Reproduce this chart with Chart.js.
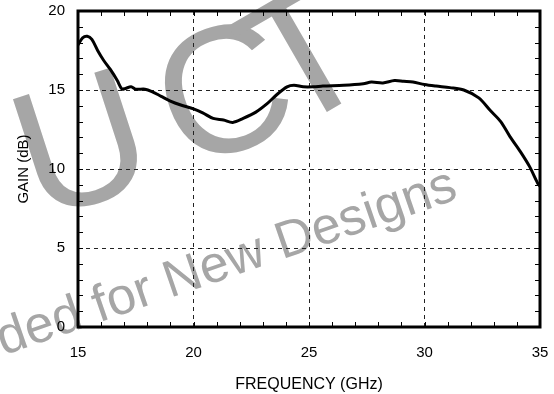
<!DOCTYPE html>
<html>
<head>
<meta charset="utf-8">
<script src="https://cdn.jsdelivr.net/npm/chart.js@4"></script>
<style>
body{margin:0;background:#fff}
canvas{display:block}
</style>
</head>
<body>
<canvas id="myChart" width="554" height="394"></canvas>
<script>
// gain curve
var freq=[15,15.2,15.4,15.6,15.85,16.1,16.4,16.7,16.9,17.05,17.3,17.5,17.9,18.2,18.6,19.0,19.45,20.0,20.4,20.85,21.3,21.7,22.15,22.7,23.2,23.6,24.05,24.35,24.75,25.2,25.6,26.5,27.35,27.7,28.2,28.7,29.1,29.5,30.0,30.5,31.1,31.7,32.35,32.85,33.3,33.7,34.15,34.55,34.9,35]
var gain=[17.85,18.3,18.4,18.2,17.5,16.9,16.3,15.6,15.06,15.1,15.2,15.05,15.05,14.9,14.6,14.3,14.05,13.8,13.55,13.2,13.1,12.95,13.2,13.6,14.15,14.7,15.2,15.3,15.2,15.2,15.25,15.3,15.4,15.5,15.45,15.6,15.55,15.5,15.35,15.25,15.15,15.0,14.5,13.7,13.0,12.05,11.1,10.15,9.1,8.9]
var xTitle='FREQUENCY (GHz)'
var yTitle='GAIN (dB)'
var mark1='PRODUCT'
var mark2='Not Recommended for New Designs'

var fam='"Liberation Sans", Arial, Helvetica, sans-serif'

var pts=[]
for(var i=0;i<freq.length;i++){pts.push({x:freq[i],y:gain[i]})}

// grey watermark behind the plot
var watermark={
    id:'watermark',
    beforeDraw:function(chart){
        var ctx=chart.ctx
        var deg=Math.PI/180
        ctx.save()
        ctx.fillStyle='#a6a6a6'
        ctx.textAlign='center'
        ctx.textBaseline='alphabetic'
        // big word, the letters sit on a slight arc
        ctx.font='180px '+fam
        var spots=[[-60,185,17],[80,140,18],[222,88,20],[302,52,30]]
        var letters=mark1.slice(3)
        for(var k=0;k<letters.length;k++){
            ctx.save()
            ctx.translate(spots[k][0],spots[k][1])
            ctx.rotate(-spots[k][2]*deg)
            ctx.fillText(letters[k],0,180*0.358)
            ctx.restore()
        }
        // line of text, anchored on the foot of the "N"
        ctx.textAlign='left'
        ctx.font='52px '+fam
        ctx.save()
        ctx.translate(170,298)
        ctx.rotate(-19*deg)
        var off=ctx.measureText('Not Recommended for ').width
        ctx.fillText(mark2,-off,0)
        ctx.restore()
        ctx.restore()
    }
}

// frame + small inside ticks
var frame={
    id:'frame',
    afterDraw:function(chart){
        var ctx=chart.ctx
        var a=chart.chartArea
        var xs=chart.scales.x, ys=chart.scales.y
        ctx.save()
        ctx.strokeStyle='#000'
        ctx.lineWidth=1
        ctx.beginPath()
        for(var f=16;f<35;f++){
            var px=Math.round(xs.getPixelForValue(f))+0.5
            ctx.moveTo(px,a.top);ctx.lineTo(px,a.top+5)
            ctx.moveTo(px,a.bottom);ctx.lineTo(px,a.bottom-5)
        }
        for(var g=1;g<20;g++){
            var py=Math.round(ys.getPixelForValue(g))+0.5
            ctx.moveTo(a.left,py);ctx.lineTo(a.left+5,py)
            ctx.moveTo(a.right,py);ctx.lineTo(a.right-5,py)
        }
        ctx.stroke()
        ctx.lineWidth=3
        ctx.strokeRect(a.left,a.top,a.right-a.left,a.bottom-a.top)
        ctx.restore()
    }
}

var ctx=document.getElementById('myChart')
var myChart=new Chart(ctx,{
    type:'line',
    data:{
        datasets:[{
            data:pts,
            borderColor:'#000',
            borderWidth:3,
            pointRadius:0,
            tension:0.3,
            fill:false
        }]
    },
    options:{
        responsive:false,
        animation:false,
        layout:{padding:{top:11,right:14,left:0,bottom:0}},
        plugins:{legend:{display:false},tooltip:{enabled:false}},
        scales:{
            x:{
                type:'linear',
                min:15,max:35,
                ticks:{stepSize:5,color:'#000',padding:17,font:{size:15,family:fam}},
                grid:{color:'#222',lineWidth:1,drawTicks:false},
                border:{display:false,dash:[4,4]},
                title:{display:true,text:xTitle,color:'#000',padding:{top:0,bottom:0},font:{size:16,family:fam}},
                afterFit:function(s){s.height=67;s.paddingLeft=0;s.paddingRight=0}
            },
            y:{
                min:0,max:20,
                ticks:{stepSize:5,color:'#000',padding:13,font:{size:15,family:fam}},
                grid:{color:'#222',lineWidth:1,drawTicks:false},
                border:{display:false,dash:[4,4]},
                title:{display:true,text:yTitle,color:'#000',padding:{top:15,bottom:0},font:{size:15,family:fam}},
                afterFit:function(s){s.width=78;s.paddingTop=0;s.paddingBottom=0}
            }
        }
    },
    plugins:[watermark,frame]
})
</script>
</body>
</html>
